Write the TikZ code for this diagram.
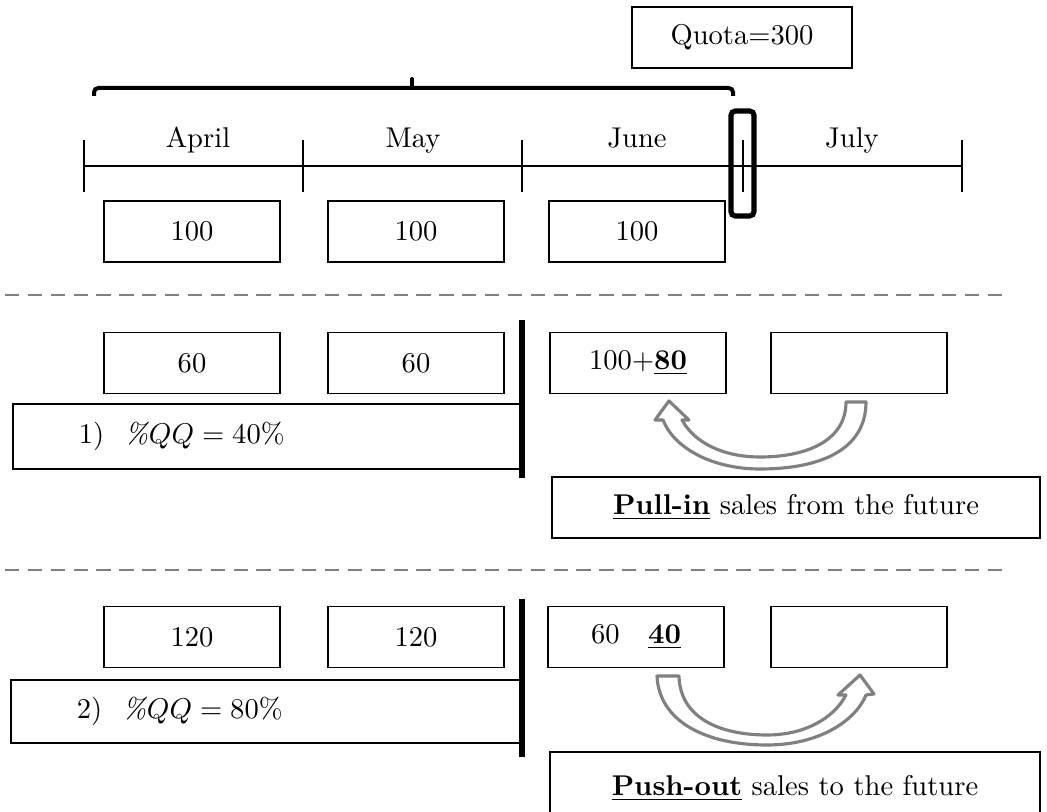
\documentclass[tikz,border=0pt]{standalone}
\begin{document}
\begin{tikzpicture}[x=0.35pt,y=-0.35pt,
  valbox/.style={draw, line width=0.6pt, minimum width=61.6pt, minimum height=21.35pt, inner sep=0pt},
  widebox/.style={draw, line width=0.6pt, minimum height=22.75pt, inner sep=0pt},
  tline/.style={line width=0.7pt},
  bar/.style={line width=1.8pt},
  dashline/.style={gray, line width=0.6pt, dash pattern=on 5pt off 3pt},
  hollowarrow/.style={draw=gray, line width=1.1pt, fill=white, line join=round},
  month/.style={anchor=base}
]
\clip (0,0) rectangle (1047,812);
% quota
\node[draw, line width=0.6pt, minimum width=77pt, minimum height=21.35pt, inner sep=0pt] (quota) at (742,37.5) {Quota=300};
% brace
\draw[line width=1.4pt, rounded corners=1.5pt] (94,96) -- (94,88) -- (733,88) -- (733,96);
\draw[line width=1.4pt, line cap=round] (412,88) -- (412,79);
% timeline
\coordinate (t0) at (84,166);
\coordinate (t4) at (962,166);
\draw[tline] (t0) -- (t4);
\foreach \x in {84,303,522,962} {
  \draw[tline] (\x,140) -- (\x,192);
}
\draw[tline] (743,140) -- (743,192);
\draw[line width=1.8pt, rounded corners=1.5pt] (731,111) rectangle (754,216);
\node[month] (april) at (198,148) {April};
\node[month] (may) at (413,148) {May};
\node[month] (june) at (637,148) {June};
\node[month] (july) at (852,148) {July};
% row 1
\node[valbox] (r1a) at (192,231.5) {100};
\node[valbox] (r1b) at (416,231.5) {100};
\node[valbox] (r1c) at (637,231.5) {100};
% dashed separators
\draw[dashline] (5,295) -- (1010,295);
\draw[dashline] (5,570) -- (1010,570);
% row 2
\node[valbox] (r2a) at (192,363) {60};
\node[valbox] (r2b) at (416,363) {60};
\node[valbox] (r2c) at (638,363) {100+\underline{\textbf{80}}};
\node[valbox] (r2d) at (859,363) {};
\node[widebox, anchor=west, inner xsep=23.1pt, text width=132pt, align=left] (qq1) at (12,436.5) {1)\hspace{7.2pt}\textit{\%}$QQ = 40\%$};
\draw[bar] (522,320) -- (522,478);
\draw[hollowarrow] (866,402) .. controls (866,450) and (820,469) .. (760,469)
  .. controls (712,469) and (674,448) .. (663,420) -- (655,420) -- (669,401) -- (689,420) -- (682,420)
  .. controls (694,442) and (722,457) .. (760,457)
  .. controls (808,457) and (846,440) .. (846,402) -- cycle;
\node[draw, line width=0.6pt, minimum width=170.8pt, minimum height=21.35pt, inner sep=0pt] (pullin) at (796,507.5) {\underline{\textbf{Pull-in}} sales from the future};
% row 3
\node[valbox] (r3a) at (192,637) {120};
\node[valbox] (r3b) at (416,637) {120};
\node[valbox] (r3c) at (636,637) {60\quad\underline{\textbf{40}}};
\node[valbox] (r3d) at (859,637) {};
\node[widebox, anchor=west, inner xsep=23.1pt, text width=132pt, align=left, minimum height=22.05pt] (qq2) at (10,711.5) {2)\hspace{7.2pt}\textit{\%}$QQ = 80\%$};
\draw[bar] (522,599) -- (522,757);
\draw[hollowarrow] (657,676) .. controls (659,721) and (705,745) .. (767,745)
  .. controls (820,745) and (856,720) .. (866,695) -- (874,694) -- (860,675) -- (838,695) -- (846,695)
  .. controls (834,718) and (805,735) .. (767,735)
  .. controls (720,735) and (680,718) .. (679,676) -- cycle;
\node[draw, line width=0.6pt, minimum width=171.5pt, minimum height=25.2pt, inner sep=0pt] (pushout) at (795,788) {\underline{\textbf{Push-out}} sales to the future};
\end{tikzpicture}
\end{document}
